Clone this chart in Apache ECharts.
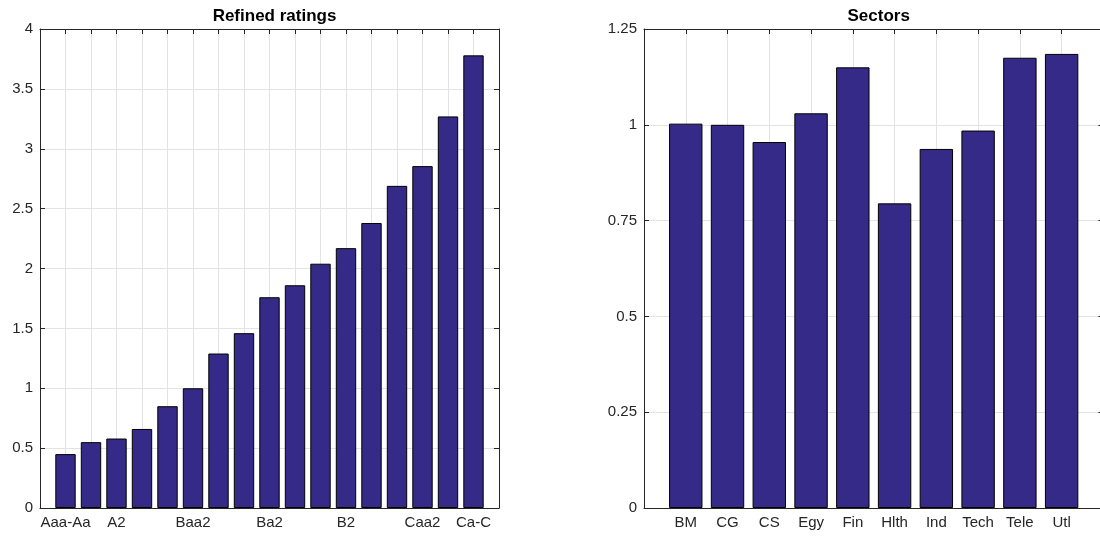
<!DOCTYPE html>
<html>
<head>
<meta charset="utf-8">
<script src="https://cdn.jsdelivr.net/npm/echarts@6/dist/echarts.min.js"></script>
<style>
  html, body { margin: 0; padding: 0; background: #fff; }
  #main { width: 1100px; height: 536px; }
</style>
</head>
<body>
<div id="main"></div>
<script>
// rating buckets, only some get a tick label
const ratings = ['Aaa-Aa','A1','A2','A3','Baa1','Baa2','Baa3','Ba1','Ba2','Ba3','B1','B2','B3','Caa1','Caa2','Caa3','Ca-C'];
const ratingLabels = ['Aaa-Aa','A2','Baa2','Ba2','B2','Caa2','Ca-C'];
const ratingValues = [0.45,0.55,0.58,0.66,0.85,1.0,1.29,1.46,1.76,1.86,2.04,2.17,2.38,2.69,2.855,3.27,3.78];

const sectors = ['BM','CG','CS','Egy','Fin','Hlth','Ind','Tech','Tele','Utl'];
const sectorValues = [1.003,1.0,0.955,1.03,1.15,0.795,0.937,0.985,1.175,1.185];

const barColor = '#352a87'
const axisColor = '#262626'
const gridColor = '#e3e3e3'
const font = '"Liberation Sans", Arial, Helvetica, sans-serif'

// x axis pair (bottom with labels, top mirror)
function xAxes(gridIndex, max, fmt) {
  const base = {
    type: 'value', gridIndex: gridIndex, min: 0, max: max, interval: 1,
    axisLine: {show: true, onZero: false, lineStyle: {color: axisColor, width: 1}},
    axisTick: {show: true, inside: true, length: 5, lineStyle: {color: axisColor}},
    splitLine: {show: false}
  }
  return [
    Object.assign({}, base, {
      position: 'bottom',
      splitLine: {show: true, lineStyle: {color: gridColor, width: 1}},
      axisLabel: {color: axisColor, fontSize: 15, fontFamily: font, margin: 7, formatter: fmt}
    }),
    Object.assign({}, base, {position: 'top', axisLabel: {show: false}})
  ]
}

function yAxes(gridIndex, max, step) {
  const base = {
    type: 'value', gridIndex: gridIndex, min: 0, max: max, interval: step,
    axisLine: {show: true, onZero: false, lineStyle: {color: axisColor, width: 1}},
    axisTick: {show: true, inside: true, length: 5, lineStyle: {color: axisColor}},
    splitLine: {show: false}
  }
  return [
    Object.assign({}, base, {
      position: 'left',
      splitLine: {show: true, lineStyle: {color: gridColor, width: 1}},
      axisLabel: {color: axisColor, fontSize: 15, fontFamily: font, margin: 7}
    }),
    Object.assign({}, base, {position: 'right', axisLabel: {show: false}})
  ]
}

const chart = echarts.init(document.getElementById('main'))

chart.setOption({
  animation: false,
  backgroundColor: '#fff',
  title: [
    {text: 'Refined ratings', left: 269.5, top: 3, textAlign: 'center',
      textStyle: {fontSize: 17, fontWeight: 'bold', color: '#000', fontFamily: font}},
    {text: 'Sectors', left: 873.7, top: 3, textAlign: 'center',
      textStyle: {fontSize: 17, fontWeight: 'bold', color: '#000', fontFamily: font}}
  ],
  grid: [
    {left: 40, top: 29, width: 459, height: 479, outerBoundsMode: 'none'},
    // the right panel runs a little past the window edge
    {left: 644, top: 29, width: 459.4, height: 479, outerBoundsMode: 'none'}
  ],
  xAxis: [].concat(
    xAxes(0, ratings.length + 1, function (v) {
      const name = ratings[v - 1]
      return name && ratingLabels.indexOf(name) >= 0 ? name : ''
    }),
    xAxes(1, sectors.length + 1, function (v) {
      return sectors[v - 1] || ''
    })
  ),
  yAxis: [].concat(yAxes(0, 4, 0.5), yAxes(1, 1.25, 0.25)),
  series: [
    {
      type: 'bar', xAxisIndex: 0, yAxisIndex: 0,
      barWidth: 20.4,
      itemStyle: {color: barColor, borderColor: '#000', borderWidth: 1},
      data: ratingValues.map((v, i) => [i + 1, v])
    },
    {
      type: 'bar', xAxisIndex: 2, yAxisIndex: 2,
      barWidth: 33.4,
      itemStyle: {color: barColor, borderColor: '#000', borderWidth: 1},
      data: sectorValues.map((v, i) => [i + 1, v])
    }
  ]
})
</script>
</body>
</html>
